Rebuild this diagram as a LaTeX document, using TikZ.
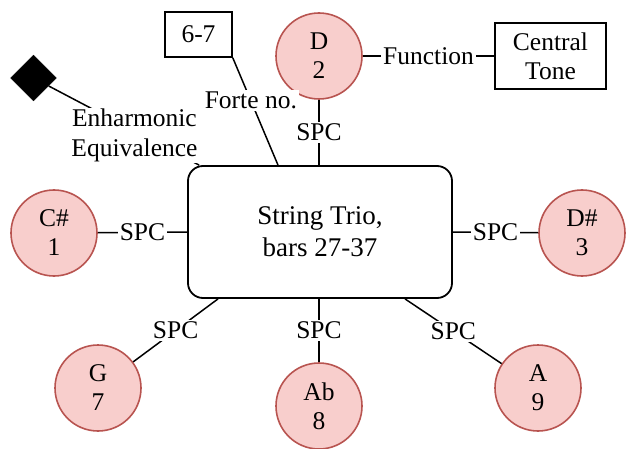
\documentclass[tikz,border=0pt]{standalone}
\usepackage{fontspec}
\setmainfont{Liberation Serif}
\usetikzlibrary{shapes.geometric,calc}
\definecolor{pinkfill}{HTML}{F8CECC}
\definecolor{pinkline}{HTML}{B85450}
\begin{document}
\begin{tikzpicture}[x=1pt,y=-1pt,
  every node/.style={font=\fontsize{25.5}{29}\selectfont},
  pc/.style={circle,draw=pinkline,fill=pinkfill,line width=1.6pt,minimum size=86pt,inner sep=0pt,align=center},
  rbox/.style={draw,line width=1.5pt,align=center,inner sep=0pt},
  lbl/.style={fill=white,inner sep=2pt},
  edge/.style={line width=1.5pt}]
\useasboundingbox (0,0) rectangle (626,449);
\node[draw,line width=1.8pt,rounded corners=15pt,minimum width=264pt,minimum height=132pt,align=center,font=\fontsize{27}{32}\selectfont] (main) at (320,232) {String Trio,\\bars 27-37};
\node[pc] (D) at (319,56) {D\\2};
\node[pc] (Cs) at (54,233) {C\#\\1};
\node[pc] (Ds) at (582,233) {D\#\\3};
\node[pc] (G) at (98,388) {G\\7};
\node[pc] (Ab) at (319,406) {Ab\\8};
\node[pc] (A) at (538,388) {A\\9};
\node[rbox,minimum width=67pt,minimum height=45pt] (f) at (198.5,34.5) {6-7};
\node[rbox,minimum width=111pt,minimum height=66pt] (ct) at (550.5,56) {Central\\Tone};
\node[diamond,fill=black,draw,inner sep=0pt,minimum width=46pt,minimum height=46pt] (dia) at (33.5,78) {};
\draw[edge] (D.south) -- node[lbl]{SPC} (D.south |- main.north);
\draw[edge] (Cs) -- node[lbl]{SPC} (main.west);
\draw[edge] (main.east) -- node[lbl]{SPC} (Ds);
\draw[edge] ([xshift=-102pt]main.south) -- node[lbl]{SPC} (G);
\draw[edge] (main.south -| Ab) -- node[lbl]{SPC} (Ab);
\draw[edge] ([xshift=85pt]main.south) -- node[lbl]{SPC} (A);
\draw[edge] (D) -- node[lbl]{Function} (ct);
\draw[edge] (f.south east) -- node[lbl,pos=0.4]{Forte no.} ([xshift=-42pt]main.north);
\draw[edge] (dia) -- node[lbl,inner sep=1pt,pos=0.57,yshift=-4pt,align=center,font=\fontsize{25.5}{30}\selectfont]{Enharmonic\\Equivalence} ([xshift=12pt]main.north west);
\end{tikzpicture}
\end{document}
